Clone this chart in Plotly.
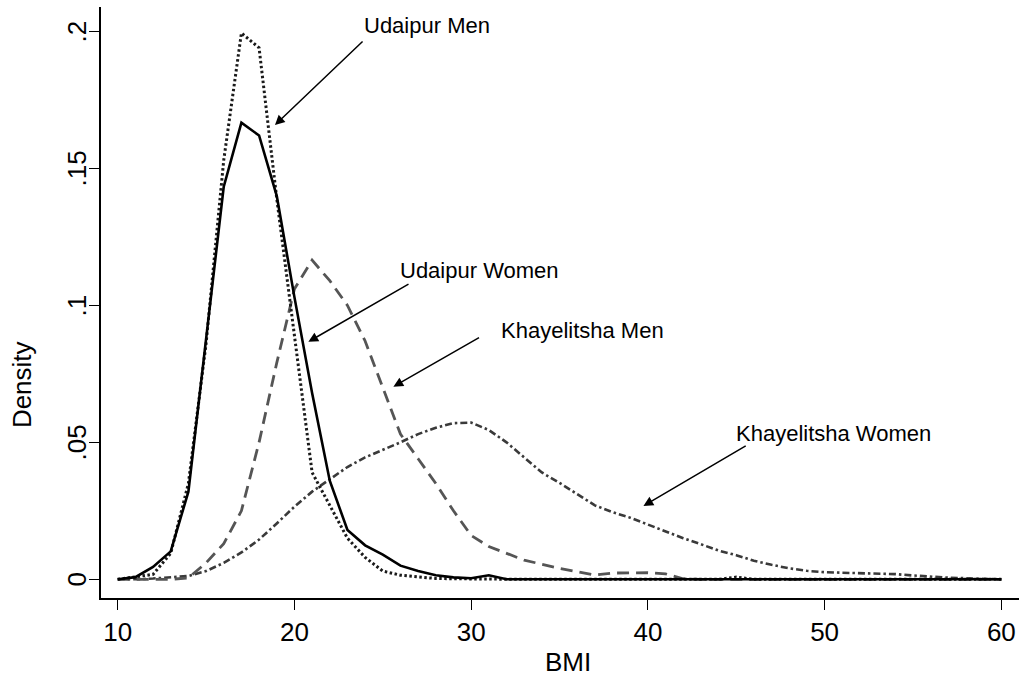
import plotly.graph_objects as go

# BMI evaluation grid (kernel density points)
bmi = list(range(10, 61))

# Udaipur Men (dotted)
udaipur_men = [0.0, 0.0008, 0.0018, 0.0095, 0.035, 0.086, 0.153, 0.1994, 0.194, 0.139,
               0.088, 0.039, 0.027, 0.015, 0.008, 0.003, 0.0015, 0.0008, 0.0003, 0.0002,
               0.0001, 0.0, 0.0, 0.0, 0.0, 0.0, 0.0, 0.0, 0.0, 0.0,
               0.0, 0.0, 0.0, 0.0, 0.0, 0.0008, 0.0, 0.0, 0.0, 0.0,
               0.0, 0.0, 0.0, 0.0, 0.0, 0.0, 0.0, 0.0, 0.0, 0.0, 0.0]

# Udaipur Women (solid)
udaipur_women = [0.0, 0.0008, 0.0045, 0.0102, 0.032, 0.087, 0.1433, 0.1667, 0.162, 0.140,
                 0.103, 0.068, 0.036, 0.018, 0.0124, 0.009, 0.005, 0.003, 0.0015, 0.0007,
                 0.0004, 0.0015, 0.0, 0.0, 0.0, 0.0, 0.0, 0.0, 0.0, 0.0,
                 0.0, 0.0, 0.0, 0.0, 0.0, 0.0, 0.0, 0.0, 0.0, 0.0,
                 0.0, 0.0, 0.0, 0.0, 0.0, 0.0, 0.0, 0.0, 0.0, 0.0, 0.0]

# Khayelitsha Men (dashed)
khayelitsha_men = [0.0, 0.0, 0.0, 0.0, 0.0005, 0.006, 0.013, 0.025, 0.050, 0.079,
                   0.106, 0.1165, 0.109, 0.100, 0.087, 0.070, 0.053, 0.044, 0.035, 0.025,
                   0.016, 0.012, 0.0095, 0.007, 0.0055, 0.004, 0.0028, 0.0016, 0.0023, 0.0024,
                   0.0024, 0.002, 0.0002, 0.0, 0.0, 0.0, 0.0, 0.0, 0.0, 0.0,
                   0.0, 0.0, 0.0, 0.0, 0.0, 0.0, 0.0, 0.0, 0.0, 0.0, 0.0]

# Khayelitsha Women (dash-dot)
khayelitsha_women = [0.0, 0.0, 0.0003, 0.0007, 0.0012, 0.003, 0.006, 0.0098, 0.0145, 0.0204,
                     0.0265, 0.032, 0.0366, 0.041, 0.0445, 0.0472, 0.050, 0.053, 0.0553, 0.057,
                     0.0572, 0.0545, 0.050, 0.0445, 0.039, 0.0352, 0.031, 0.027, 0.0245, 0.0225,
                     0.020, 0.0175, 0.015, 0.0128, 0.0105, 0.0088, 0.0068, 0.0053, 0.004, 0.0031,
                     0.0026, 0.0024, 0.0023, 0.0022, 0.0019, 0.0014, 0.0009, 0.0006, 0.0004, 0.0002, 0.0]

x_ticks = [10, 20, 30, 40, 50, 60]
y_ticks = [0, 0.05, 0.1, 0.15, 0.2]
y_tick_labels = ["0", ".05", ".1", ".15", ".2"]

FONT = "Liberation Sans, Arial, Helvetica, sans-serif"
TICK_SIZE = 26
LABEL_SIZE = 22

fig = go.Figure()

fig.add_trace(go.Scatter(x=bmi, y=khayelitsha_women, mode="lines", name="Khayelitsha Women",
                         line=dict(color="#3a3a3a", width=2.6, dash="7px,3px,2.5px,3px")))
fig.add_trace(go.Scatter(x=bmi, y=khayelitsha_men, mode="lines", name="Khayelitsha Men",
                         line=dict(color="#555555", width=2.8, dash="12px,7px")))
fig.add_trace(go.Scatter(x=bmi, y=udaipur_men, mode="lines", name="Udaipur Men",
                         line=dict(color="#1a1a1a", width=3, dash="2.5px,2.5px")))
fig.add_trace(go.Scatter(x=bmi, y=udaipur_women, mode="lines", name="Udaipur Women",
                         line=dict(color="#000000", width=2.6)))

# label text placed at its left edge, arrow drawn separately (tail -> tip)
labels = [
    ("Udaipur Men", 23.83, 0.2023, 23.94, 0.1968, 18.90, 0.1658),
    ("Udaipur Women", 25.86, 0.1129, 26.54, 0.1081, 20.79, 0.0867),
    ("Khayelitsha Men", 31.58, 0.0910, 30.53, 0.0885, 25.60, 0.0703),
    ("Khayelitsha Women", 44.88, 0.0534, 45.62, 0.0490, 39.75, 0.0268),
]
for text, tx, ty, ax, ay, hx, hy in labels:
    fig.add_annotation(x=tx, y=ty, text=text, showarrow=False, xanchor="left", yanchor="middle",
                       font=dict(family=FONT, size=LABEL_SIZE, color="#000000"))
    fig.add_annotation(x=hx, y=hy, ax=ax, ay=ay, axref="x", ayref="y", text="",
                       showarrow=True, arrowhead=2, arrowsize=1.3, arrowwidth=1.5,
                       arrowcolor="#000000", standoff=0, startstandoff=0)

# vertical y tick labels, set close to the tick marks
for v, lab in zip(y_ticks, y_tick_labels):
    fig.add_annotation(x=-0.026, xref="paper", y=v, yref="y", text=lab, textangle=-90,
                       showarrow=False, xanchor="center", yanchor="middle",
                       font=dict(family=FONT, size=TICK_SIZE, color="#000000"))

# axis titles
fig.add_annotation(x=-0.086, xref="paper", y=0.0709, yref="y", text="Density", textangle=-90,
                   showarrow=False, xanchor="center", yanchor="middle",
                   font=dict(family=FONT, size=TICK_SIZE, color="#000000"))
fig.add_annotation(x=35.48, xref="x", y=-0.108, yref="paper", text="BMI",
                   showarrow=False, xanchor="center", yanchor="middle",
                   font=dict(family=FONT, size=TICK_SIZE, color="#000000"))

fig.update_layout(
    width=1024, height=684,
    margin=dict(l=101, r=5, t=7, b=86),
    paper_bgcolor="white", plot_bgcolor="white",
    showlegend=False,
    font=dict(family=FONT, size=TICK_SIZE, color="#000000"),
)
fig.update_xaxes(
    range=[9.055, 61.0], tickvals=x_ticks, ticks="outside", ticklen=10, tickwidth=1.3,
    tickcolor="black", showline=True, linecolor="black", linewidth=1.5, showgrid=False,
    zeroline=False, tickfont=dict(size=TICK_SIZE),
)
fig.update_yaxes(
    range=[-0.00682, 0.2089], tickvals=y_ticks, showticklabels=False,
    ticks="outside", ticklen=10, tickwidth=1.3, tickcolor="black", showline=True,
    linecolor="black", linewidth=1.5, showgrid=False, zeroline=False,
)

fig.write_html("out.html")
